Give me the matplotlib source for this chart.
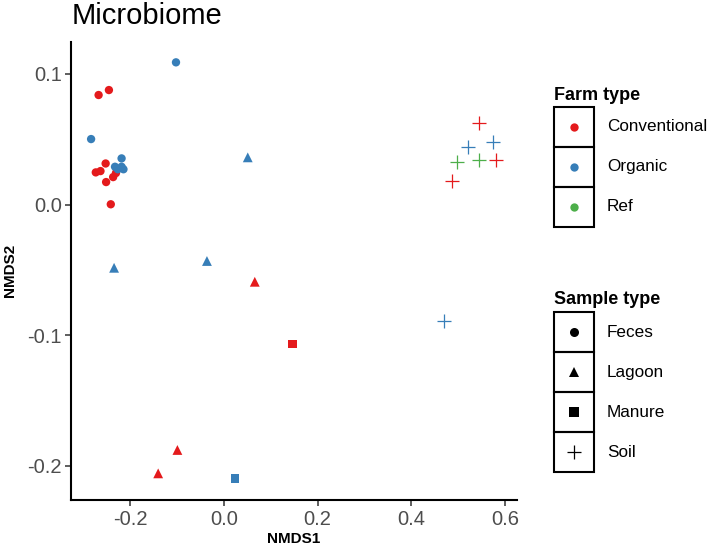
import matplotlib
matplotlib.use("Agg")
import matplotlib.pyplot as plt
from matplotlib.patches import Rectangle
from matplotlib.lines import Line2D

plt.rcParams["font.family"] = ["Liberation Sans", "DejaVu Sans"]

# NMDS scores, one entry per sample
nmds1 = [
    # feces, conventional
    -0.267, -0.245, -0.252, -0.273, -0.263, -0.230, -0.236, -0.251, -0.241,
    # feces, organic
    -0.283, -0.102, -0.218, -0.232, -0.218, -0.214, -0.226,
    # lagoon
    0.051, -0.234, -0.036, 0.066, -0.099, -0.140,
    # manure
    0.147, 0.024,
    # soil
    0.544, 0.581, 0.487, 0.520, 0.573, 0.469, 0.498, 0.545,
]
nmds2 = [
    0.0838, 0.0876, 0.0314, 0.0246, 0.0256, 0.0241, 0.0210, 0.0172, 0.0002,
    0.0501, 0.1088, 0.0353, 0.0289, 0.0289, 0.0270, 0.0270,
    0.0361, -0.0484, -0.0432, -0.0591, -0.1878, -0.2057,
    -0.1067, -0.2095,
    0.0621, 0.0340, 0.0177, 0.0442, 0.0476, -0.0889, 0.0325, 0.0340,
]
farm = (["Conventional"] * 9 + ["Organic"] * 7
        + ["Organic"] * 3 + ["Conventional"] * 3
        + ["Conventional", "Organic"]
        + ["Conventional"] * 3 + ["Organic"] * 3 + ["Ref"] * 2)
sample = (["Feces"] * 16 + ["Lagoon"] * 6 + ["Manure"] * 2 + ["Soil"] * 8)

farm_levels = ["Conventional", "Organic", "Ref"]
sample_levels = ["Feces", "Lagoon", "Manure", "Soil"]
farm_colors = {"Conventional": "#E41A1C", "Organic": "#377EB8", "Ref": "#4DAF4A"}
sample_markers = {"Feces": "o", "Lagoon": "^", "Manure": "s", "Soil": "+"}
marker_sizes = {"Feces": 36, "Lagoon": 50, "Manure": 38, "Soil": 95}

fig = plt.figure(figsize=(7.09, 5.53), dpi=100)
ax = fig.add_axes([0.1007, 0.0958, 0.6278, 0.8288])

for i in range(len(nmds1)):
    s = sample[i]
    c = farm_colors[farm[i]]
    if s == "Soil":
        ax.scatter(nmds1[i], nmds2[i], marker="+", s=marker_sizes[s], color=c, linewidths=0.9, zorder=3)
    else:
        ax.scatter(nmds1[i], nmds2[i], marker=sample_markers[s], s=marker_sizes[s], color=c,
                   edgecolors="none", zorder=3)

ax.set_xlim(-0.325, 0.624)
ax.set_ylim(-0.2261, 0.1246)
ax.set_xticks([-0.2, 0.0, 0.2, 0.4, 0.6])
ax.set_yticks([-0.2, -0.1, 0.0, 0.1])
ax.set_xticklabels(["-0.2", "0.0", "0.2", "0.4", "0.6"])
ax.set_yticklabels(["-0.2", "-0.1", "0.0", "0.1"])
for side in ["top", "right"]:
    ax.spines[side].set_visible(False)
for side in ["left", "bottom"]:
    ax.spines[side].set_linewidth(1.5)
    ax.spines[side].set_color("black")
ax.tick_params(axis="both", length=4.5, width=1.1, color="#333333", labelsize=14.5,
               labelcolor="#4D4D4D", pad=2.5)
ax.set_xlabel("NMDS1", fontsize=11, fontweight="bold", labelpad=2)
ax.set_ylabel("NMDS2", fontsize=11, fontweight="bold", labelpad=7)

fig.text(72 / 709, 1 - 24 / 553, "Microbiome", fontsize=21, va="baseline", ha="left")

# hand-made legends with boxed keys like ggplot
W, H = 709.0, 553.0


def draw_legend(title, title_y, top, labels, handles):
    fig.text(554 / W, 1 - title_y / H, title, fontsize=13, fontweight="bold", va="baseline", ha="left")
    for k, (lab, h) in enumerate(zip(labels, handles)):
        y0 = top + 40 * k
        fig.patches.append(Rectangle((554 / W, 1 - (y0 + 40) / H), 40 / W, 40 / H,
                                     transform=fig.transFigure, fill=False,
                                     edgecolor="black", linewidth=1.5))
        mk, col, ms = h
        fig.lines.append(Line2D([574 / W], [1 - (y0 + 20) / H], transform=fig.transFigure,
                                marker=mk, color=col, markersize=ms, linestyle="none",
                                markeredgewidth=0.9 if mk == "+" else 0))
        fig.text(607 / W, 1 - (y0 + 20) / H, lab, fontsize=12.3, va="center", ha="left")


draw_legend("Farm type", 99.5, 106.7, farm_levels,
            [("o", farm_colors[f], 6) for f in farm_levels])
draw_legend("Sample type", 303.5, 312.3, sample_levels,
            [(sample_markers[s], "black", 9.5 if s == "Soil" else 6.5) for s in sample_levels])

fig.savefig("out.png", dpi=100)
